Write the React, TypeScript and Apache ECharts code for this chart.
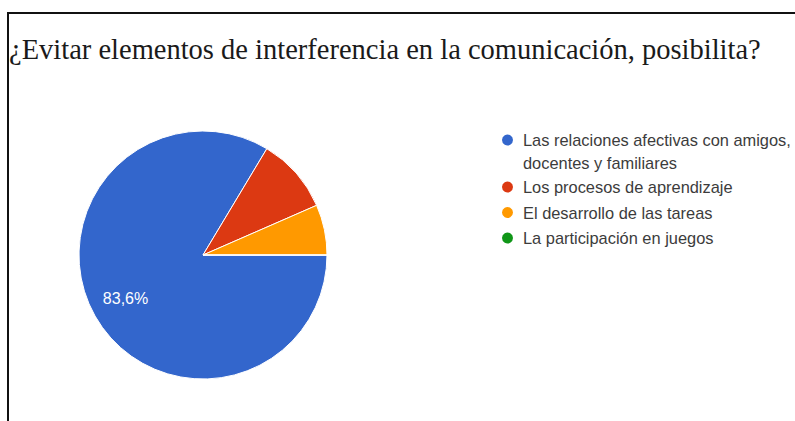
import React, { useEffect, useRef } from "react";
import * as echarts from "echarts";

const TITLE = "¿Evitar elementos de interferencia en la comunicación, posibilita?";
const categories = [
  "Las relaciones afectivas con amigos, docentes y familiares",
  "Los procesos de aprendizaje",
  "El desarrollo de las tareas",
  "La participación en juegos",
];
const legendLines = [
  "\u00a0\nLas relaciones afectivas con amigos,\ndocentes y familiares",
  "Los procesos de aprendizaje",
  "El desarrollo de las tareas",
  "La participación en juegos",
];
const counts = [51, 6, 4, 0];
const colors = ["#3366cc", "#dc3912", "#ff9900", "#109618"];

export default function App() {
  const ref = useRef<HTMLDivElement>(null);
  useEffect(() => {
    if (!ref.current) return;
    const chart = echarts.init(ref.current, null, { renderer: "svg" });
    const total = counts.reduce((a, b) => a + b, 0);
    const data = categories.map((name, i) => ({ name, value: counts[i], itemStyle: { color: colors[i] } }));
    const LH = 22.5;
    const legendText = {
      fontFamily: "Liberation Sans, Arial, sans-serif",
      fontSize: 16.4,
      color: "#3c3c3c",
      lineHeight: LH,
      padding: [0, 0, 0, 4],
    };
    const fmt = (name: string) => legendLines[categories.indexOf(name)] ?? name;
    chart.setOption({
      animation: false,
      backgroundColor: "#ffffff",
      title: {
        text: TITLE,
        left: 9,
        top: 35,
        padding: 0,
        textStyle: {
          fontFamily: "Liberation Serif, Times New Roman, serif",
          fontSize: 28.5,
          fontWeight: "normal",
          color: "#1a1a1a",
        },
      },
      legend: [
        {
          orient: "vertical",
          left: 500,
          top: 140 - 1.5 * LH,
          padding: 0,
          icon: "circle",
          itemWidth: 13,
          itemHeight: 13,
          selectedMode: false,
          formatter: fmt,
          data: [categories[0]],
          textStyle: legendText,
        },
        {
          orient: "vertical",
          left: 500,
          top: 187 - LH / 2,
          padding: 0,
          itemGap: 25.5 - LH,
          icon: "circle",
          itemWidth: 13,
          itemHeight: 13,
          selectedMode: false,
          formatter: fmt,
          data: categories.slice(1),
          textStyle: legendText,
        },
      ],
      graphic: [
        {
          type: "polyline",
          shape: { points: [[8, 421], [8, 13], [795, 13]] },
          style: { stroke: "#111111", lineWidth: 2, fill: "none" },
          silent: true,
        },
      ],
      series: [
        {
          type: "pie",
          center: [203, 255],
          radius: [0, 124],
          startAngle: 0,
          clockwise: true,
          avoidLabelOverlap: false,
          itemStyle: { borderColor: "#ffffff", borderWidth: 1 },
          label: { show: false },
          labelLine: { show: false },
          emphasis: { disabled: true },
          data,
        },
        {
          type: "pie",
          center: [203, 255],
          radius: [48, 124],
          startAngle: 0,
          clockwise: true,
          silent: true,
          avoidLabelOverlap: false,
          itemStyle: { color: "rgba(0,0,0,0)", borderWidth: 0 },
          label: {
            show: true,
            position: "inside",
            color: "#ffffff",
            fontFamily: "Liberation Sans, Arial, sans-serif",
            fontSize: 16,
            fontWeight: 500,
            formatter: (p: any) => {
              const pct = (p.value / total) * 100;
              return pct >= 15 ? pct.toFixed(1).replace(".", ",") + "%" : "";
            },
          },
          labelLine: { show: false },
          emphasis: { disabled: true },
          data: categories.map((name, i) => ({ name, value: counts[i] })),
        },
      ],
    });
    return () => chart.dispose();
  }, []);
  return <div ref={ref} style={{ position: "absolute", left: 0, top: 0, width: 795, height: 421 }} />;
}
